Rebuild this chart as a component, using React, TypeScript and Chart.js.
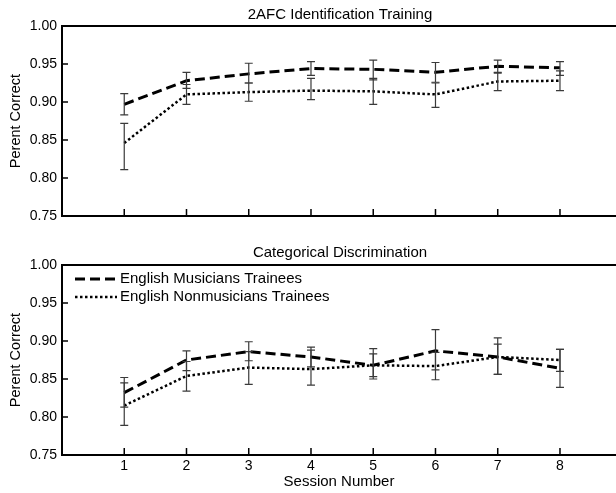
import React, { useEffect, useRef } from "react";
import { Chart, registerables } from "chart.js";
Chart.register(...registerables);

const sessions = [1, 2, 3, 4, 5, 6, 7, 8];
const seriesNames = ["English Musicians Trainees", "English Nonmusicians Trainees"];
const yTickValues = [0.75, 0.8, 0.85, 0.9, 0.95, 1.0];

// 2AFC Identification Training
const idMusMean = [0.897, 0.928, 0.937, 0.944, 0.943, 0.939, 0.947, 0.945];
const idMusLow = [0.883, 0.918, 0.925, 0.935, 0.929, 0.926, 0.938, 0.935];
const idMusHigh = [0.911, 0.939, 0.951, 0.953, 0.955, 0.952, 0.955, 0.953];
const idNonMean = [0.846, 0.910, 0.913, 0.915, 0.914, 0.910, 0.927, 0.928];
const idNonLow = [0.811, 0.897, 0.901, 0.903, 0.897, 0.893, 0.915, 0.915];
const idNonHigh = [0.872, 0.923, 0.925, 0.931, 0.931, 0.925, 0.939, 0.941];

// Categorical Discrimination
const cdMusMean = [0.832, 0.875, 0.886, 0.879, 0.868, 0.887, 0.879, 0.864];
const cdMusLow = [0.813, 0.861, 0.874, 0.866, 0.853, 0.862, 0.856, 0.839];
const cdMusHigh = [0.852, 0.887, 0.899, 0.892, 0.883, 0.915, 0.904, 0.889];
const cdNonMean = [0.815, 0.854, 0.865, 0.863, 0.868, 0.867, 0.879, 0.875];
const cdNonLow = [0.789, 0.834, 0.843, 0.842, 0.850, 0.849, 0.856, 0.860];
const cdNonHigh = [0.845, 0.873, 0.886, 0.888, 0.890, 0.885, 0.896, 0.889];

const FONT = "'Liberation Sans', Arial, Helvetica, sans-serif";
const DASH = [10, 5];
const DOT = [2.5, 2.5];

type Panel = {
  title: string;
  titleY: number;
  musMean: number[]; musLow: number[]; musHigh: number[];
  nonMean: number[]; nonLow: number[]; nonHigh: number[];
  showXLabels: boolean;
  xAxisHeight: number;
  legend: boolean;
};

function pts(vals: number[]) {
  return sessions.map((s, i) => ({ x: s, y: vals[i] }));
}

function errorBarPlugin(p: Panel) {
  return {
    id: "errorBars",
    afterDatasetsDraw(chart: any) {
      const { ctx, scales } = chart;
      const x = scales.x, y = scales.y;
      ctx.save();
      ctx.strokeStyle = "#3a3a3a";
      ctx.lineWidth = 1.2;
      ctx.setLineDash([]);
      const groups = [[p.musLow, p.musHigh], [p.nonLow, p.nonHigh]];
      groups.forEach(([lo, hi]) => {
        sessions.forEach((s, i) => {
          const px = x.getPixelForValue(s);
          const pl = y.getPixelForValue(lo[i]);
          const ph = y.getPixelForValue(hi[i]);
          ctx.beginPath();
          ctx.moveTo(px, pl); ctx.lineTo(px, ph);
          ctx.moveTo(px - 4, pl); ctx.lineTo(px + 4, pl);
          ctx.moveTo(px - 4, ph); ctx.lineTo(px + 4, ph);
          ctx.stroke();
        });
      });
      ctx.restore();
    },
  };
}

function framePlugin(p: Panel) {
  return {
    id: "frame",
    afterDraw(chart: any) {
      const { ctx, chartArea, scales } = chart;
      const { left, right, top, bottom } = chartArea;
      ctx.save();
      ctx.setLineDash([]);

      // panel title centred over the plot area
      ctx.fillStyle = "#000";
      ctx.font = `15px ${FONT}`;
      ctx.textAlign = "center";
      ctx.textBaseline = "middle";
      ctx.fillText(p.title, (left + chart.width) / 2 + 1, p.titleY);

      ctx.strokeStyle = "#000";
      ctx.lineWidth = 2;
      ctx.beginPath();
      ctx.moveTo(right + 2, top);
      ctx.lineTo(left, top);
      ctx.lineTo(left, bottom);
      ctx.lineTo(right + 2, bottom);
      ctx.stroke();
      ctx.lineWidth = 1.5;
      ctx.beginPath();
      sessions.forEach((s) => {
        const px = scales.x.getPixelForValue(s);
        ctx.moveTo(px, bottom);
        ctx.lineTo(px, bottom - 7);
      });
      yTickValues.forEach((v) => {
        const py = scales.y.getPixelForValue(v);
        ctx.moveTo(left, py);
        ctx.lineTo(left + 6, py);
      });
      ctx.stroke();

      if (p.legend) {
        const rows = [
          { name: seriesNames[0], dash: DASH, w: 3 },
          { name: seriesNames[1], dash: DOT, w: 2.5 },
        ];
        rows.forEach((r, i) => {
          const yy = top + 14 + i * 18;
          ctx.strokeStyle = "#000";
          ctx.lineWidth = r.w;
          ctx.setLineDash(r.dash);
          ctx.beginPath();
          ctx.moveTo(left + 13, yy);
          ctx.lineTo(left + 55, yy);
          ctx.stroke();
          ctx.setLineDash([]);
          ctx.fillStyle = "#000";
          ctx.font = `15px ${FONT}`;
          ctx.textBaseline = "middle";
          ctx.textAlign = "left";
          ctx.fillText(r.name, left + 58, yy);
        });
      }
      ctx.restore();
    },
  };
}

function makeConfig(p: Panel): any {
  return {
    type: "line",
    data: {
      datasets: [
        {
          label: seriesNames[0],
          data: pts(p.musMean),
          borderColor: "#000",
          borderWidth: 3,
          borderDash: DASH,
          pointRadius: 0,
          fill: false,
          tension: 0,
        },
        {
          label: seriesNames[1],
          data: pts(p.nonMean),
          borderColor: "#000",
          borderWidth: 2.5,
          borderDash: DOT,
          pointRadius: 0,
          fill: false,
          tension: 0,
        },
      ],
    },
    options: {
      responsive: false,
      animation: false,
      devicePixelRatio: 1,
      layout: { padding: { top: 26, left: 0, right: 0, bottom: 0 } },
      plugins: {
        legend: { display: false },
        tooltip: { enabled: false },
        title: { display: false },
      },
      scales: {
        x: {
          type: "linear",
          min: 0,
          max: 8.9,
          afterBuildTicks: (s: any) => {
            s.ticks = sessions.map((v) => ({ value: v }));
          },
          afterFit: (s: any) => {
            s.height = p.xAxisHeight;
          },
          grid: { display: false, drawTicks: false },
          border: { display: false },
          ticks: {
            display: p.showXLabels,
            color: "#000",
            padding: 3,
            font: { family: FONT, size: 14 },
            callback: (v: any) => String(v),
          },
          title: {
            display: p.showXLabels,
            text: "Session Number",
            color: "#000",
            font: { family: FONT, size: 15 },
            padding: { top: 0, bottom: 2 },
          },
        },
        y: {
          type: "linear",
          min: 0.75,
          max: 1.0,
          afterBuildTicks: (s: any) => {
            s.ticks = yTickValues.map((v) => ({ value: v }));
          },
          afterFit: (s: any) => {
            s.width = 62;
          },
          grid: { display: false, drawTicks: false },
          border: { display: false },
          ticks: {
            color: "#000",
            padding: 5,
            font: { family: FONT, size: 14 },
            callback: (v: any) => Number(v).toFixed(2),
          },
          title: {
            display: true,
            text: "Perent Correct",
            color: "#000",
            font: { family: FONT, size: 14.5 },
            padding: { top: 7, bottom: 0 },
          },
        },
      },
    },
    plugins: [errorBarPlugin(p), framePlugin(p)],
  };
}

const topPanel: Panel = {
  title: "2AFC Identification Training",
  titleY: 14.5,
  musMean: idMusMean, musLow: idMusLow, musHigh: idMusHigh,
  nonMean: idNonMean, nonLow: idNonLow, nonHigh: idNonHigh,
  showXLabels: false,
  xAxisHeight: 16,
  legend: false,
};

const bottomPanel: Panel = {
  title: "Categorical Discrimination",
  titleY: 13.7,
  musMean: cdMusMean, musLow: cdMusLow, musHigh: cdMusHigh,
  nonMean: cdNonMean, nonLow: cdNonLow, nonHigh: cdNonHigh,
  showXLabels: true,
  xAxisHeight: 38,
  legend: true,
};

function PanelChart({ panel, top, height }: { panel: Panel; top: number; height: number }) {
  const ref = useRef<HTMLCanvasElement | null>(null);
  useEffect(() => {
    if (!ref.current) return;
    const chart = new Chart(ref.current, makeConfig(panel));
    return () => chart.destroy();
  }, [panel]);
  return (
    <canvas
      ref={ref}
      width={616}
      height={height}
      style={{ position: "absolute", left: 0, top, width: 616, height }}
    />
  );
}

export default function App() {
  return (
    <div
      style={{
        position: "fixed",
        left: 0,
        top: 0,
        width: 616,
        height: 493,
        background: "#fff",
        overflow: "hidden",
      }}
    >
      <PanelChart panel={topPanel} top={0} height={232} />
      <PanelChart panel={bottomPanel} top={239} height={254} />
    </div>
  );
}
